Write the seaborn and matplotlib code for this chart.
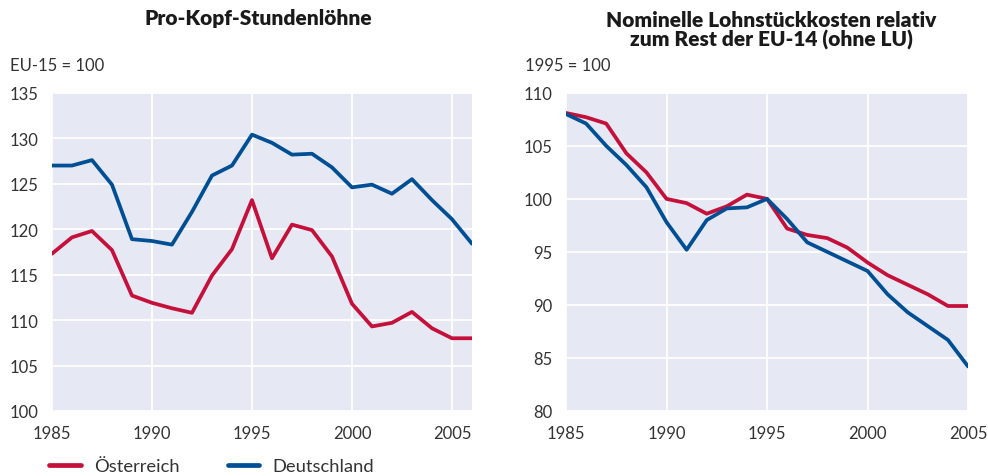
import numpy as np
import pandas as pd
import matplotlib
matplotlib.use("Agg")
import matplotlib.pyplot as plt
import seaborn as sns

# Pro-Kopf-Stundenloehne, EU-15 = 100
years_left = list(range(1985, 2007))
at_left = [117.3, 119.1, 119.8, 117.7, 112.7, 111.9, 111.3, 110.8, 114.9, 117.8, 123.2,
           116.8, 120.5, 119.9, 117.0, 111.8, 109.3, 109.7, 110.9, 109.1, 108.0, 108.0]
de_left = [127.0, 127.0, 127.6, 124.9, 118.9, 118.7, 118.3, 121.9, 125.9, 127.0, 130.4,
           129.5, 128.2, 128.3, 126.8, 124.6, 124.9, 123.9, 125.5, 123.2, 121.1, 118.4]

# Nominelle Lohnstueckkosten, 1995 = 100
years_right = list(range(1985, 2006))
at_right = [108.1, 107.7, 107.1, 104.3, 102.5, 100.0, 99.6, 98.6, 99.3, 100.4, 100.0,
            97.2, 96.6, 96.3, 95.4, 94.0, 92.8, 91.9, 91.0, 89.9, 89.9]
de_right = [108.0, 107.1, 105.0, 103.2, 101.1, 97.8, 95.2, 98.0, 99.1, 99.2, 100.0,
            98.1, 95.9, 95.0, 94.1, 93.2, 91.0, 89.3, 88.0, 86.7, 84.2]

countries = ["Österreich", "Deutschland"]
colors = {"Österreich": "#C4103A", "Deutschland": "#004F95"}


def to_long(years, at, de):
    return pd.DataFrame({
        "Jahr": years * 2,
        "Wert": at + de,
        "Land": ["Österreich"] * len(years) + ["Deutschland"] * len(years),
    })


sns.set_theme(style="darkgrid", rc={
    "axes.facecolor": "#E6E9F3",
    "grid.color": "white",
    "grid.linewidth": 1.3,
})
plt.rcParams["font.family"] = ["Lato", "DejaVu Sans"]

fig = plt.figure(figsize=(9.88, 4.77), dpi=100)
ax1 = fig.add_axes([0.0526, 0.1363, 0.4251, 0.667])
ax2 = fig.add_axes([0.5729, 0.1363, 0.4069, 0.667])

panels = [
    (ax1, to_long(years_left, at_left, de_left), (1985, 2006), (100, 135), range(100, 136, 5)),
    (ax2, to_long(years_right, at_right, de_right), (1985, 2005), (80, 110), range(80, 111, 5)),
]

for ax, df, xlim, ylim, yticks in panels:
    sns.lineplot(data=df, x="Jahr", y="Wert", hue="Land", hue_order=countries,
                 palette=colors, linewidth=2.7, ax=ax, legend=False)
    ax.set_xlim(*xlim)
    ax.set_ylim(*ylim)
    ax.set_xticks([1985, 1990, 1995, 2000, 2005])
    ax.set_yticks(list(yticks))
    ax.set_xlabel("")
    ax.set_ylabel("")
    ax.tick_params(axis="both", labelsize=12, labelcolor="#333333", pad=4)
    for s in ax.spines.values():
        s.set_visible(False)

# titles and units
fig.text(0.261, 0.962, "Pro-Kopf-Stundenlöhne", ha="center", va="center",
         fontsize=15, fontweight="heavy", color="#1a1a1a")
fig.text(0.781, 0.937, "Nominelle Lohnstückkosten relativ\nzum Rest der EU-14 (ohne LU)",
         ha="center", va="center", fontsize=15, fontweight="heavy", color="#1a1a1a",
         linespacing=1.0)
fig.text(0.010, 0.862, "EU-15 = 100", ha="left", va="center", fontsize=12, color="#333333")
fig.text(0.531, 0.862, "1995 = 100", ha="left", va="center", fontsize=12, color="#333333")

# legend
handles = [plt.Line2D([], [], color=colors[c], linewidth=3.4, solid_capstyle="round")
           for c in countries]
fig.legend(handles, countries, loc="center left", bbox_to_anchor=(0.05, 0.021),
           ncol=2, frameon=False, fontsize=13.2, handlelength=1.7, handletextpad=0.75,
           columnspacing=2.6, borderpad=0, borderaxespad=0, labelcolor="#333333")

fig.savefig("out.png", dpi=100)
